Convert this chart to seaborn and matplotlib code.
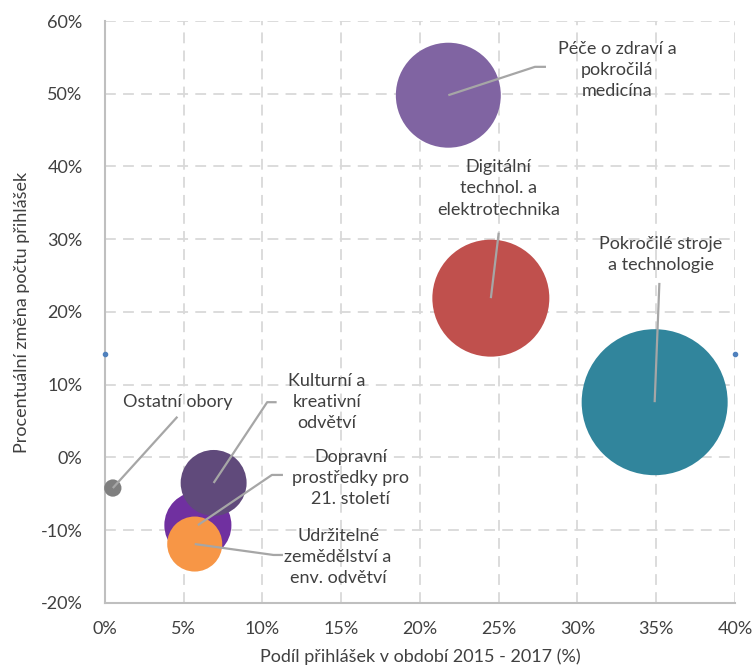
import matplotlib
matplotlib.use("Agg")
import matplotlib.pyplot as plt
import seaborn as sns
import pandas as pd

# Data (values in %)
obory = ["Péče o zdraví a\npokročilá\nmedicína",
         "Digitální\ntechnol. a\nelektrotechnika",
         "Pokročilé stroje\na technologie",
         "Ostatní obory",
         "Dopravní\nprostředky pro\n21. století",
         "Kulturní a\nkreativní\nodvětví",
         "Udržitelné\nzemědělství a\nenv. odvětví"]
podil = [21.8, 24.5, 34.9, 0.5, 5.9, 6.9, 5.7]
zmena = [49.8, 21.9, 7.6, -4.2, -9.3, -3.5, -11.9]
velikost = [517, 642, 1000, 14, 211, 204, 142]
barvy = ["#8064A2", "#C0504D", "#31859C", "#7F7F7F", "#7030A0", "#604A7B", "#F79646"]

# hidden helper series at the edges of the plot
pomocne_x = [0, 40]
pomocne_y = [14.2, 14.2]

# label layout: text centre, leader elbow, leader end (data coords)
popisky = [
    ((32.5, 53.3), (27.3, 53.7), (28.0, 53.7)),
    ((25.0, 37.0), None, (25.0, 30.9)),
    ((35.3, 27.9), None, (35.2, 24.0)),
    ((4.6, 7.6), None, (4.6, 5.6)),
    ((15.6, -2.8), (10.6, -2.4), (11.3, -2.4)),
    ((14.1, 7.6), (10.3, 7.6), (10.9, 7.6)),
    ((14.8, -13.7), (10.7, -13.4), (11.3, -13.4)),
]

df = pd.DataFrame({"obor": obory, "podil": podil, "zmena": zmena, "velikost": velikost})

sns.set_style("white")
plt.rcParams["font.family"] = ["Lato", "DejaVu Sans"]
text_color = "#404040"
fs = 13

fig = plt.figure(figsize=(7.55, 6.69), dpi=100)
ax = fig.add_axes([0.139, 0.0987, 0.8345, 0.8699])

s_max = (146 * 0.72) ** 2
sns.scatterplot(data=df, x="podil", y="zmena", size="velikost", hue="obor",
                palette=barvy, sizes=(0, s_max), size_norm=(0, 1000),
                linewidth=0, alpha=1, legend=False, ax=ax, zorder=3, clip_on=False)
ax.scatter(pomocne_x, pomocne_y, s=9, color="#4F81BD", zorder=3, clip_on=False)

for (txt, elbow, end), (x, y), lab in zip(popisky, zip(podil, zmena), obory):
    xs = [x] + ([elbow[0]] if elbow else []) + [end[0]]
    ys = [y] + ([elbow[1]] if elbow else []) + [end[1]]
    ax.plot(xs, ys, color="#A6A6A6", lw=1.6, zorder=4, solid_capstyle="butt")
    ax.text(txt[0], txt[1], lab, ha="center", va="center", fontsize=fs,
            color=text_color, linespacing=1.4, zorder=5)

ax.set_xlim(0, 40)
ax.set_ylim(-20, 60)
ax.set_xticks(range(0, 41, 5))
ax.set_yticks(range(-20, 61, 10))
ax.set_xticklabels([f"{v}%" for v in range(0, 41, 5)])
ax.set_yticklabels([f"{v}%" for v in range(-20, 61, 10)])
ax.tick_params(length=0, labelsize=fs, labelcolor=text_color)
ax.tick_params(axis="y", pad=16)
ax.tick_params(axis="x", pad=13)

ax.grid(True, color="#D9D9D9", lw=1.3, linestyle=(0, (6, 4)))
ax.set_axisbelow(True)
for side in ["top", "right"]:
    ax.spines[side].set_visible(False)
for side in ["left", "bottom"]:
    ax.spines[side].set_color("#BFBFBF")
    ax.spines[side].set_linewidth(1.5)

ax.set_xlabel("Podíl přihlášek v období 2015 - 2017 (%)", fontsize=fs,
              color=text_color, labelpad=8)
ax.set_ylabel("Procentuální změna počtu přihlášek", fontsize=fs,
              color=text_color, labelpad=8)

fig.savefig("out.png", dpi=100)
